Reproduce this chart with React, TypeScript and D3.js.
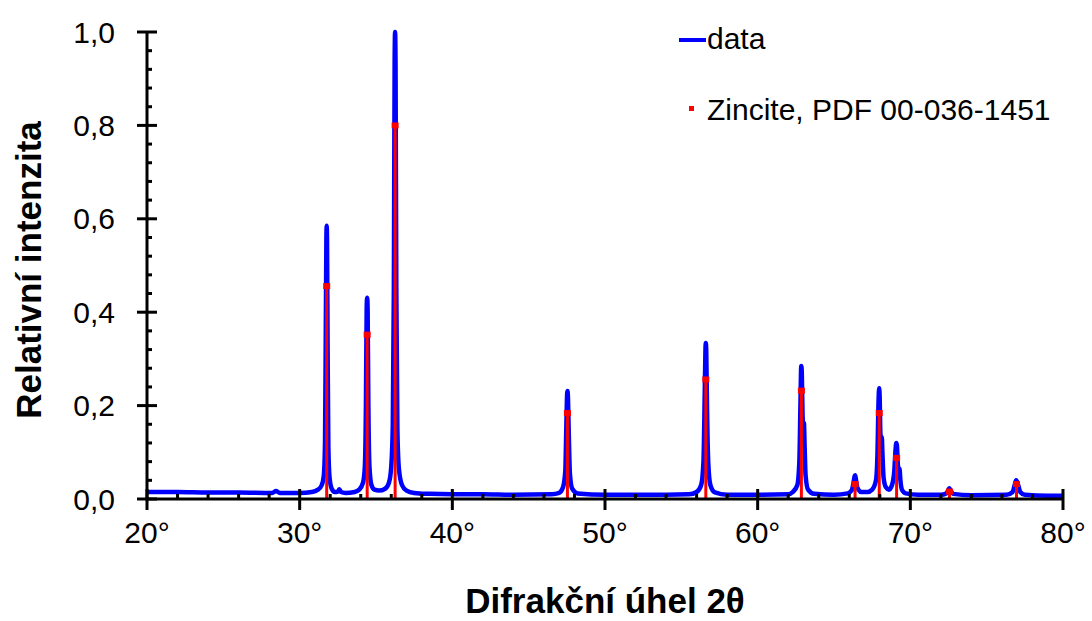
import React from "react";
import * as d3 from "d3";

const dataPoints: [number, number][] = [
  [20, 0.015], [22, 0.015], [24, 0.014], [26, 0.014], [28.2, 0.013], [28.45, 0.017], [28.7, 0.013],
  [30, 0.013], [30.8, 0.015], [31.2, 0.02], [31.45, 0.03], [31.58, 0.05], [31.66, 0.12], [31.71, 0.35],
  [31.75, 0.56], [31.77, 0.585], [31.79, 0.56], [31.83, 0.33], [31.88, 0.11], [31.96, 0.045], [32.1, 0.022],
  [32.3, 0.015], [32.5, 0.016], [32.6, 0.021], [32.7, 0.015], [33.0, 0.013], [33.6, 0.015],
  [33.9, 0.02], [34.15, 0.035], [34.27, 0.07], [34.34, 0.2], [34.39, 0.41], [34.42, 0.431], [34.45, 0.41],
  [34.5, 0.2], [34.57, 0.07], [34.7, 0.03], [34.9, 0.02], [35.2, 0.018], [35.6, 0.022],
  [35.85, 0.035], [36.0, 0.07], [36.1, 0.16], [36.17, 0.45], [36.22, 0.93], [36.25, 1.0], [36.28, 0.93],
  [36.33, 0.45], [36.4, 0.15], [36.5, 0.065], [36.7, 0.03], [37.0, 0.018], [37.5, 0.013], [38.5, 0.011],
  [40, 0.01], [42, 0.01], [44, 0.009], [46.5, 0.01],
  [47.0, 0.013], [47.25, 0.025], [47.4, 0.06], [47.47, 0.16], [47.52, 0.225], [47.54, 0.231], [47.57, 0.22],
  [47.62, 0.15], [47.7, 0.055], [47.85, 0.022], [48.2, 0.012], [50, 0.009], [52, 0.009], [54, 0.009], [55.5, 0.01],
  [56.0, 0.015], [56.3, 0.03], [56.45, 0.08], [56.53, 0.22], [56.58, 0.32], [56.6, 0.334], [56.63, 0.32],
  [56.68, 0.2], [56.76, 0.08], [56.9, 0.03], [57.2, 0.014], [58, 0.009], [60, 0.009], [62, 0.01],
  [62.3, 0.015], [62.6, 0.03], [62.73, 0.08], [62.8, 0.2], [62.84, 0.275], [62.86, 0.285], [62.89, 0.27],
  [62.94, 0.18], [62.99, 0.15], [63.03, 0.163], [63.07, 0.12], [63.14, 0.05], [63.3, 0.02], [63.7, 0.011],
  [65, 0.009], [65.9, 0.012],
  [66.15, 0.018], [66.28, 0.035], [66.35, 0.049], [66.38, 0.051], [66.42, 0.045], [66.5, 0.028], [66.6, 0.02],
  [66.8, 0.015], [67.2, 0.015],
  [67.5, 0.02], [67.75, 0.04], [67.85, 0.1], [67.91, 0.2], [67.94, 0.23], [67.96, 0.237], [67.99, 0.22],
  [68.04, 0.14], [68.09, 0.125], [68.13, 0.133], [68.17, 0.1], [68.25, 0.045], [68.4, 0.025], [68.6, 0.02],
  [68.8, 0.03], [68.95, 0.06], [69.03, 0.105], [69.08, 0.12], [69.12, 0.115], [69.18, 0.075], [69.24, 0.062],
  [69.29, 0.065], [69.35, 0.04], [69.45, 0.02], [69.7, 0.012], [70.5, 0.009], [72.0, 0.009],
  [72.35, 0.012], [72.5, 0.02], [72.56, 0.023], [72.65, 0.018], [72.8, 0.011], [74, 0.008], [76.3, 0.009],
  [76.7, 0.015], [76.85, 0.032], [76.93, 0.04], [76.98, 0.038], [77.08, 0.028], [77.2, 0.015], [77.5, 0.009],
  [79, 0.007], [80, 0.007],
];

// Zincite reference, PDF 00-036-1451 (2θ, relative intensity)
const refPositions = [31.77, 34.422, 36.253, 47.539, 56.603, 62.864, 66.38, 67.963, 69.1, 72.562, 76.955];
const refIntensities = [0.456, 0.352, 0.8, 0.184, 0.256, 0.232, 0.032, 0.184, 0.088, 0.016, 0.032];

const xTickValues = [20, 30, 40, 50, 60, 70, 80];
const yTickValues = [0, 0.2, 0.4, 0.6, 0.8, 1.0];

const xTitle = "Difrakční úhel 2θ";
const yTitle = "Relativní intenzita";
const legendLabels = ["data", "Zincite, PDF 00-036-1451"];

const FONT = "'Liberation Sans', Arial, Helvetica, sans-serif";
const BLUE = "#0000ff";
const RED = "#ff0000";

export default function App() {
  const W = 1092, H = 621;
  const x = d3.scaleLinear().domain([20, 80]).range([147, 1063]);
  const y = d3.scaleLinear().domain([0, 1]).range([499, 32]);

  const line = d3
    .line<[number, number]>()
    .x((d) => x(d[0]))
    .y((d) => y(d[1]))
    .curve(d3.curveMonotoneX);

  const xMinor = d3.range(20, 80.001, 2).filter((v) => v % 10 !== 0);
  const yMinor = d3.range(0, 1.0001, 0.04).filter((v) => Math.abs(v * 5 - Math.round(v * 5)) > 1e-6);
  const fmtY = (v: number) => v.toFixed(1).replace(".", ",");

  return (
    <svg width={W} height={H} style={{ position: "absolute", left: 0, top: 0, background: "#fff" }} fontFamily={FONT}>
      <rect x={0} y={0} width={W} height={H} fill="#fff" />
      {/* data */}
      <path d={line(dataPoints) || ""} fill="none" stroke={BLUE} strokeWidth={4.5} strokeLinejoin="round" />
      {/* reference sticks */}
      {refPositions.map((p, i) => (
        <g key={i}>
          <line x1={x(p)} x2={x(p)} y1={y(0)} y2={y(refIntensities[i])} stroke={RED} strokeWidth={3} />
          <rect x={x(p) - 3.5} y={y(refIntensities[i]) - 3} width={7} height={6} fill={RED} />
        </g>
      ))}
      {/* axes */}
      <g stroke="#000" strokeWidth={3}>
        <line x1={x(20)} x2={x(80)} y1={y(0)} y2={y(0)} />
        <line x1={x(20)} x2={x(20)} y1={y(0) + 1.5} y2={y(1)} />
        {xTickValues.map((v) => (
          <line key={"xt" + v} x1={x(v)} x2={x(v)} y1={y(0) - 10} y2={y(0) + 11} />
        ))}
        {xMinor.map((v) => (
          <line key={"xm" + v} x1={x(v)} x2={x(v)} y1={y(0) - 5} y2={y(0)} />
        ))}
        {yTickValues.map((v) => (
          <line key={"yt" + v} x1={x(20) - 10} x2={x(20) + 10} y1={y(v)} y2={y(v)} />
        ))}
        {yMinor.map((v) => (
          <line key={"ym" + v} x1={x(20)} x2={x(20) + 5} y1={y(v)} y2={y(v)} />
        ))}
      </g>
      {/* tick labels */}
      {xTickValues.map((v) => (
        <text key={"xl" + v} x={x(v)} y={543} textAnchor="middle" fontSize={30} fill="#000">
          {v + "°"}
        </text>
      ))}
      {yTickValues.map((v) => (
        <text key={"yl" + v} x={115} y={y(v) + 10.5} textAnchor="end" fontSize={30} fill="#000">
          {fmtY(v)}
        </text>
      ))}
      {/* axis titles */}
      <text x={605} y={613} textAnchor="middle" fontSize={35} fontWeight="bold" fill="#000">
        {xTitle}
      </text>
      <text
        transform={`translate(41, ${270}) rotate(-90)`}
        textAnchor="middle"
        fontSize={35}
        fontWeight="bold"
        fill="#000"
      >
        {yTitle}
      </text>
      {/* legend */}
      <line x1={679} x2={706} y1={40} y2={40} stroke={BLUE} strokeWidth={4} />
      <text x={707} y={49} fontSize={30} fill="#000">{legendLabels[0]}</text>
      <rect x={689} y={106} width={5} height={5} fill={RED} />
      <text x={707} y={120} fontSize={30} fill="#000">{legendLabels[1]}</text>
    </svg>
  );
}
